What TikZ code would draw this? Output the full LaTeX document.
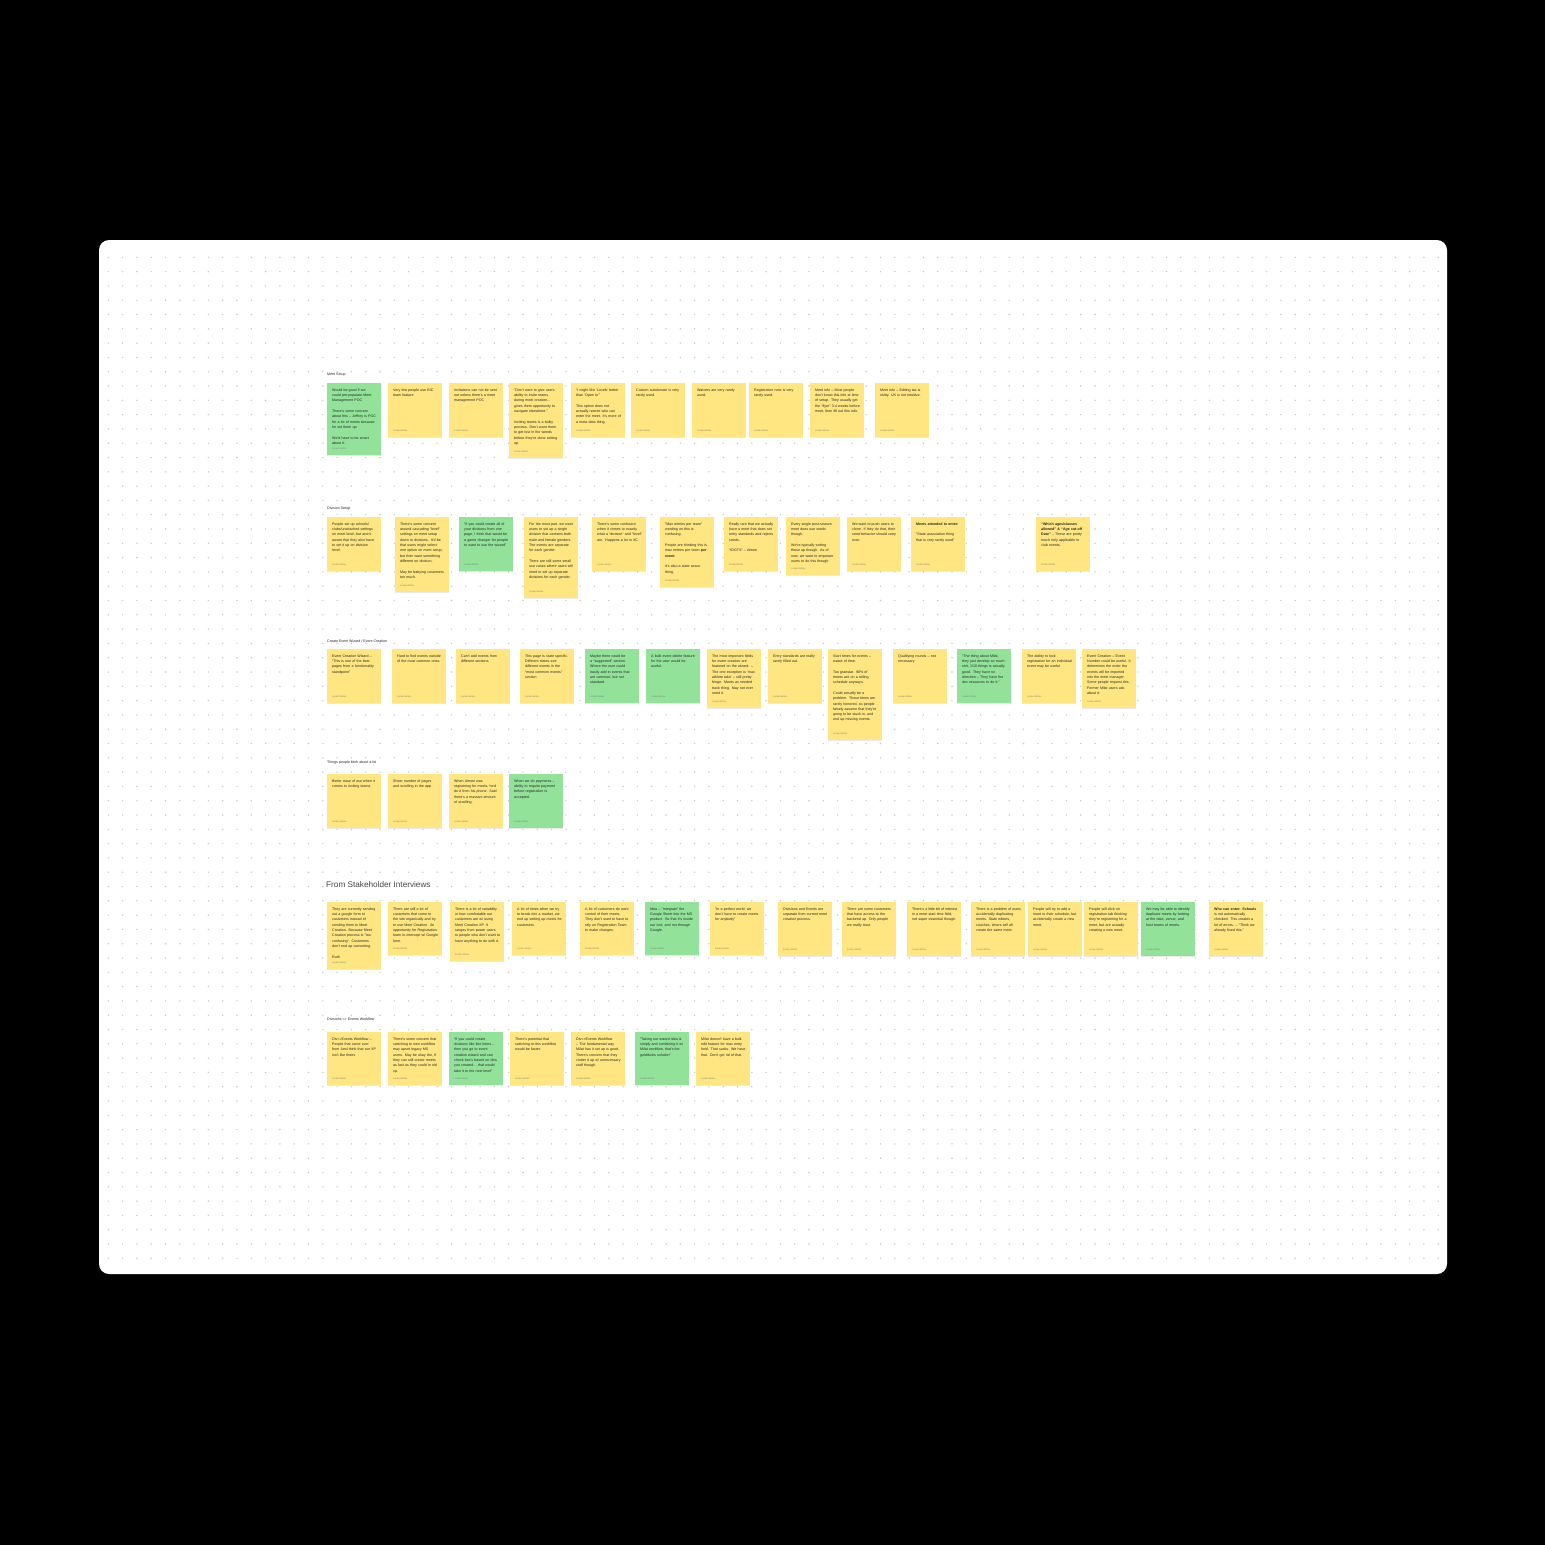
\documentclass[tikz,border=0pt]{standalone}
\usepackage{fontspec}
\setmainfont{Liberation Sans}
\usetikzlibrary{shadows}
\definecolor{stickyyellow}{HTML}{FFE681}
\definecolor{stickygreen}{HTML}{92E29A}
\definecolor{gridgray}{HTML}{C8C8C8}
\definecolor{inkgray}{HTML}{262626}
\newcommand{\nohyph}{\hyphenpenalty=10000\relax}
\tikzset{
  sticky/.style={rectangle, anchor=north west, minimum width=54pt, inner sep=0pt,
                 drop shadow={shadow xshift=0pt, shadow yshift=-0.8pt, opacity=0.16}}, % note paper
  stxt/.style={anchor=north west, inner sep=0pt, text width=45pt, align=left,
               font=\fontsize{3.6}{5.3}\selectfont\nohyph, text=inkgray},            % note text
  auth/.style={anchor=west, inner sep=0pt, font=\fontsize{2.2}{2.6}\selectfont, text=black!50},
  sect/.style={anchor=base west, inner sep=0pt, font=\fontsize{3.6}{4}\selectfont, text=inkgray},
  head/.style={anchor=west, inner sep=0pt, font=\fontsize{8.2}{10}\selectfont, text=black!72},
}
% #1 colour, #2 name, #3 x, #4 y, #5 height, #6 text
\newcommand{\stickynote}[6][stickyyellow]{%
  \node[sticky, fill=#1, minimum height=#5pt] (#2) at (#3,#4) {};
  \node[stxt] (#2t) at ([xshift=5pt,yshift=-5.5pt]#2.north west) {#6};
  \node[auth] (#2a) at ([xshift=5pt,yshift=6.5pt]#2.south west) {Jordan Brittain};
}

\begin{document}
\begin{tikzpicture}[x=1pt,y=-1pt]
  \fill[black] (0,0) rectangle (1545,1545);
  \useasboundingbox (0,0) rectangle (1545,1545);
  \fill[white, rounded corners=10pt] (99,240) rectangle (1447,1274);
  \foreach \i in {0,...,93}
    \foreach \j in {0,...,70}
      \fill[gridgray] (108.3+14.3*\i, 257.3+14.3*\j) circle (0.8);

  % Meet Setup
  \node[sect] (lms) at (327,375.5) {Meet Setup};
  \stickynote[stickygreen]{ms1}{327}{383}{72}{Would be good if we could pre-populate Meet Management POC\\[5.3pt]There's some concern about this – Jeffrey is POC for a lot of meets because he set them up.\\[5.3pt]We'd have to be smart about it.}
  \stickynote{ms2}{388}{383}{54}{Very few people use BIC team feature}
  \stickynote{ms3}{449}{383}{54}{Invitations can not be sent out unless there's a meet management POC}
  \stickynote{ms4}{509}{383}{75}{“Don't want to give users ability to invite teams during meet creation... gives them opportunity to navigate elsewhere.”\\[5.3pt]Inviting teams is a bulky process. Don't want them to get lost in the weeds before they're done setting up.}
  \stickynote{ms5}{571}{383}{54}{“I might like ‘Levels' better than ‘Open to'”\\[5.3pt]This option does not actually restrict who can enter the meet. It's more of a meta data thing.}
  \stickynote{ms6}{631}{383}{54}{Custom subdomain is very rarely used.}
  \stickynote{ms7}{692}{383}{54}{Waivers are very rarely used.}
  \stickynote{ms8}{749}{383}{54}{Registration note is very rarely used.}
  \stickynote{ms9}{810}{383}{54}{Meet info – Most people don't know this info at time of setup. They usually get the “flyer” 3-4 weeks before meet, then fill out this info.}
  \stickynote{ms10}{875}{383}{54}{Meet info – Editing tax is shitty. UX is not intuitive.}

  % Division Setup
  \node[sect] (lds) at (327,509.5) {Division Setup};
  \stickynote{ds1}{327}{517}{54}{People set up schools/ clubs/unattached settings on meet level, but aren't aware that they also have to set it up on division level.}
  \stickynote{ds2}{395}{517}{75}{There's some concern around cascading “level” settings on meet setup down to divisions. It'd be that users might select one option on meet setup, but then want something different on division.\\[5.3pt]May be babying customers too much.}
  \stickynote[stickygreen]{ds3}{459}{517}{54}{“If you could create all of your divisions from one page, I think that would be a game changer for people to want to use the wizard”}
  \stickynote{ds4}{524}{517}{81}{For the most part, we want users to set up a single division that contains both male and female genders. The events are separate for each gender.\\[5.3pt]There are still some small use cases where users will need to set up separate divisions for each gender.}
  \stickynote{ds5}{592}{517}{54}{There's some confusion when it comes to exactly what a “division” and “level” are. Happens a lot in XC.}
  \stickynote{ds6}{660}{517}{70}{“Max entries per team” wording on this is confusing.\\[5.3pt]People are thinking this is max entries per team \textbf{per event}.\\[5.3pt]It's also a state assoc thing.}
  \stickynote{ds7}{724}{517}{54}{Really rare that we actually have a meet that does not entry standards and rejects seeds.\\[5.3pt]“IDGTS” – Aimee}
  \stickynote{ds8}{786}{517}{58}{Every single post-season meet does use seeds though.\\[5.3pt]We're typically setting these up though. As of now, we want to empower users to do this though.}
  \stickynote{ds9}{847}{517}{54}{We want to push users to clone. If they do that, their seed behavior should carry over.}
  \stickynote{ds10}{911}{517}{54}{\textbf{Meets attended to enter:}\\[5.3pt]“State association thing that is very rarely used”}
  \stickynote{ds11}{1036}{517}{54}{\textbf{“Which ages/classes allowed” \& “Age cut-off Date”} – These are pretty much only applicable to club events.}

  % Create Event Wizard / Event Creation
  \node[sect] (lew) at (327,642.5) {Create Event Wizard / Event Creation};
  \stickynote{ew1}{327}{649}{54}{Event Creation Wizard – “This is one of the best pages from a functionality standpoint”}
  \stickynote{ew2}{392}{649}{54}{Hard to find events outside of the most common ones.}
  \stickynote{ew3}{456}{649}{54}{Can't add events from different sections}
  \stickynote{ew4}{520}{649}{54}{This page is state specific. Different states see different events in the “most common events” section}
  \stickynote[stickygreen]{ew5}{585}{649}{54}{Maybe there could be a “suggested” section. Where the user could easily add in events that are common, but not standard.}
  \stickynote[stickygreen]{ew6}{646}{649}{54}{A bulk event delete feature for the user would be useful.}
  \stickynote{ew7}{707}{649}{59}{The most important fields for event creation are featured on the wizard. – The one exception is ‘max athlete take' – still pretty fringe. Meets as needed track thing. May not ever need it.}
  \stickynote{ew8}{768}{649}{54}{Entry standards are really rarely filled out.}
  \stickynote{ew9}{828}{649}{91}{Start times for events – waste of time.\\[5.3pt]Too granular. 90\% of meets are on a rolling schedule anyways.\\[5.3pt]Could actually be a problem. Those times are rarely honored, so people falsely assume that they're going to be stuck in, and end up missing events.}
  \stickynote{ew10}{893}{649}{54}{Qualifying rounds – not necessary}
  \stickynote[stickygreen]{ew11}{957}{649}{54}{“The thing about Milat, they just develop so much shit, 1/10 things is actually good. They have no direction – They have the dev resources to do it.”}
  \stickynote{ew12}{1022}{649}{54}{The ability to lock registration for an individual event may be useful}
  \stickynote{ew13}{1082}{649}{59}{Event Creation – Event Number could be useful. It determines the order the events will be imported into the meet manager. Some people request this. Former Milat users ask about it.}

  % Things people bitch about a lot
  \node[sect] (lpb) at (327,763.5) {Things people bitch about a lot};
  \stickynote{pb1}{327}{774}{54}{Better ease of use when it comes to inviting teams}
  \stickynote{pb2}{388}{774}{54}{Sheer number of pages and scrolling in the app}
  \stickynote{pb3}{449}{774}{54}{When Aimee was registering for meets, he'd do it from his phone. Said there's a massive amount of scrolling.}
  \stickynote[stickygreen]{pb4}{509}{774}{54}{When we do payments – ability to require payment before registration is accepted.}

  % From Stakeholder Interviews
  \node[head] (lsi) at (326,885) {From Stakeholder Interviews};
  \stickynote{si1}{327}{902}{67}{They are currently sending out a google form to customers instead of sending them to Meet Creation. Because Meet Creation process is “too confusing”. Customers don't end up converting.\\[5.3pt]Ruth}
  \stickynote{si2}{388}{902}{53}{There are still a lot of customers that come to the site organically and try to use Meet Creation. An opportunity for Registration team to intercept w/ Google form.}
  \stickynote{si3}{450}{902}{59}{There is a lot of variability in how comfortable our customers are w/ using Meet Creation XP. It ranges from power users to people who don't want to have anything to do with it.}
  \stickynote{si4}{512}{902}{53}{A lot of times when we try to break into a market, we end up setting up meets for customers.}
  \stickynote{si5}{580}{902}{53}{A lot of customers do want control of their meets. They don't want to have to rely on Registration Team to make changes.}
  \stickynote[stickygreen]{si6}{645}{902}{53}{Idea – “Integrate” the Google Sheet into the MS product. So that it's inside our tool, and not through Google.}
  \stickynote{si7}{710}{902}{53}{“In a perfect world, we don't have to create meets for anybody”}
  \stickynote{si8}{778}{902}{54}{Divisions and Events are separate from current meet creation process.}
  \stickynote{si9}{842}{902}{54}{There are some customers that have access to the backend up. Only people we really trust.}
  \stickynote{si10}{907}{902}{54}{There's a little bit of interest in a meet start time field, not super essential though.}
  \stickynote{si11}{971}{902}{54}{There is a problem of users accidentally duplicating meets. State editors, coaches, timers will all create the same meet.}
  \stickynote{si12}{1028}{902}{54}{People will try to add a meet to their schedule, but accidentally create a new meet.}
  \stickynote{si13}{1084}{902}{54}{People will click on registration tab thinking they're registering for a meet, but are actually creating a new meet.}
  \stickynote[stickygreen]{si14}{1141}{902}{54}{We may be able to identify duplicate meets by looking at the date, venue, and host teams of meets.}
  \stickynote{si15}{1209}{902}{54}{\textbf{Who can enter: Schools} is not automatically checked. This creates a lot of errors. – “Think we already fixed this.”}

  % Divisions <> Events Workflow
  \node[sect] (ldw) at (327,1020.5) {Divisions <> Events Workflow};
  \stickynote{dw1}{327}{1032}{53}{Div<>Events Workflow – People that came over from Aesl think that our XP isn't like theirs}
  \stickynote{dw2}{388}{1032}{53}{There's some concern that switching to new workflow may upset legacy MS users. May be okay tho, if they can still create meets as fast as they could in old xp.}
  \stickynote[stickygreen]{dw3}{449}{1032}{53}{“If you could create divisions like line items.... then you go to event creation wizard and can check box's based on divs you created... that would take it to the next level”}
  \stickynote{dw4}{510}{1032}{53}{There's potential that switching to this workflow would be faster.}
  \stickynote{dw5}{571}{1032}{53}{Div<>Events Workflow – The fundamental way Milat has it set up is good. There's concern that they clutter it up w/ unnecessary stuff though.}
  \stickynote[stickygreen]{dw6}{635}{1032}{53}{“Taking our wizard idea \& simply and combining it w/ Milat workflow, that's the goldilocks solution”}
  \stickynote{dw7}{696}{1032}{53}{Milat doesn't have a bulk edit feature for max entry field. That sucks. We have that. Don't get rid of that.}
\end{tikzpicture}
\end{document}
